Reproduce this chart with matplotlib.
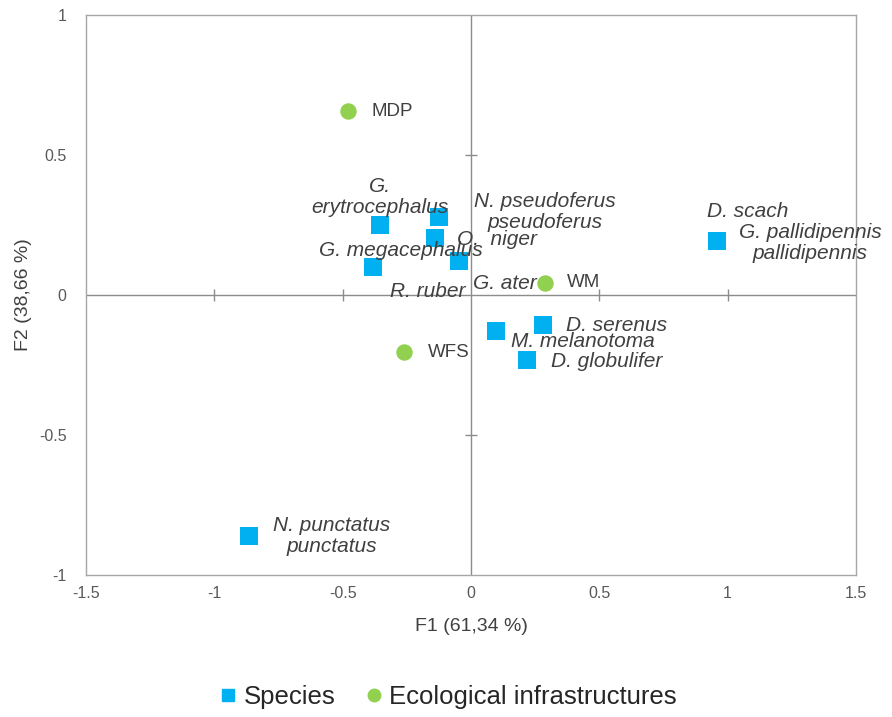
import matplotlib
matplotlib.use('Agg')
import matplotlib.pyplot as plt
from matplotlib.lines import Line2D

# Species scores on F1 / F2
species = ['G.\nerytrocephalus', 'N. pseudoferus\npseudoferus', 'O.  niger',
           'G. megacephalus', 'R. ruber', 'G. ater', 'D. scach',
           'G. pallidipennis\npallidipennis', 'D. serenus', 'M. melanotoma',
           'D. globulifer', 'N. punctatus\npunctatus']
species_f1 = [-0.355, -0.125, -0.14, -0.382, -0.047, 0.28, 0.958,
              0.958, 0.28, 0.097, 0.218, -0.865]
species_f2 = [0.25, 0.279, 0.204, 0.10, 0.121, -0.107, 0.193,
              0.193, -0.107, -0.129, -0.232, -0.861]

# Ecological infrastructures
infra = ['MDP', 'WM', 'WFS']
infra_f1 = [-0.479, 0.288, -0.261]
infra_f2 = [0.657, 0.043, -0.204]

x_ticks = [-1.5, -1, -0.5, 0, 0.5, 1, 1.5]
y_ticks = [-1, -0.5, 0, 0.5, 1]

# label offsets in pixels (dx, dy) from each marker
species_offsets = [(0, 28), (106, 5), (62, -2), (28, 16), (-31, -30),
                   (-38, 41), (31, 29), (93, -2), (74, -1), (87, -10),
                   (80, -2), (83, 0)]
infra_offsets = [(44, 0), (39, 0), (45, 0)]

BLUE = '#00B0F0'
GREEN = '#92D050'
GRID = '#8c8c8c'
TEXT = '#404040'

plt.rcParams['font.family'] = ['Liberation Sans', 'DejaVu Sans']

fig = plt.figure(figsize=(8.92, 7.17), dpi=100)
ax = fig.add_axes([86 / 892, 1 - 575 / 717, 770 / 892, 560 / 717])

ax.set_xlim(-1.5, 1.5)
ax.set_ylim(-1, 1)
ax.set_xticks(x_ticks)
ax.set_xticklabels(['-1.5', '-1', '-0.5', '0', '0.5', '1', '1.5'])
ax.set_yticks(y_ticks)
ax.set_yticklabels(['-1', '-0.5', '0', '0.5', '1'])
ax.tick_params(length=0, labelsize=11.5, colors='#595959')
ax.tick_params(axis='x', pad=8)
ax.tick_params(axis='y', pad=14)
for s in ax.spines.values():
    s.set_color('#a6a6a6')
    s.set_linewidth(1)

# zero lines with tick marks
ax.axhline(0, color=GRID, lw=1, zorder=1)
ax.axvline(0, color=GRID, lw=1, zorder=1)
ax.plot([t for t in x_ticks if abs(t) not in (0, 1.5)], [0] * 4, ls='none',
        marker='|', ms=9, mew=1, color=GRID, zorder=1)
ax.plot([0] * 2, [-0.5, 0.5], ls='none',
        marker='_', ms=9, mew=1, color=GRID, zorder=1)

ax.scatter(species_f1, species_f2, marker='s', s=150, color=BLUE,
           linewidths=0, zorder=3)
ax.scatter(infra_f1, infra_f2, marker='o', s=140, color=GREEN,
           linewidths=0, zorder=4)

for name, x, y, off in zip(species, species_f1, species_f2, species_offsets):
    ax.annotate(name, (x, y), xytext=off, textcoords='offset pixels',
                ha='center', va='center', fontsize=15, style='italic',
                color=TEXT, linespacing=1.1, zorder=5)
for name, x, y, off in zip(infra, infra_f1, infra_f2, infra_offsets):
    ax.annotate(name, (x, y), xytext=off, textcoords='offset pixels',
                ha='center', va='center', fontsize=13.5, color=TEXT, zorder=5)

ax.set_xlabel('F1 (61,34 %)', fontsize=14, color=TEXT, labelpad=12)
ax.set_ylabel('F2 (38,66 %)', fontsize=14, color=TEXT, labelpad=5)

handles = [Line2D([], [], ls='none', marker='s', ms=9, color=BLUE),
           Line2D([], [], ls='none', marker='o', ms=9, color=GREEN)]
fig.legend(handles, ['Species', 'Ecological infrastructures'], loc='center',
           bbox_to_anchor=(0.5, 1 - 697 / 717), ncol=2, frameon=False,
           fontsize=18.5, handletextpad=0.1, columnspacing=1.0,
           handlelength=1, labelcolor='#262626')

fig.savefig('out.png', dpi=100)
